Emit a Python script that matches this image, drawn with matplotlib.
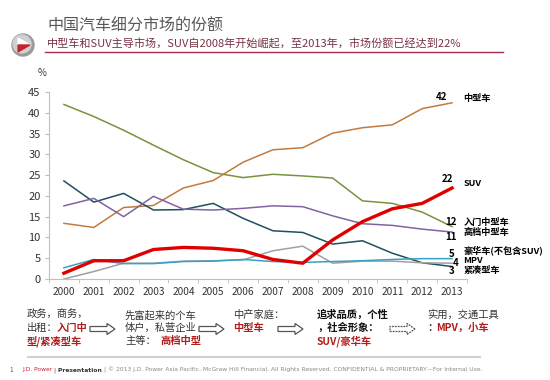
import matplotlib
matplotlib.use("Agg")
import matplotlib.pyplot as plt
from matplotlib.patches import Circle, Polygon, FancyArrow

plt.rcParams['font.family'] = ['Noto Sans CJK SC', 'DejaVu Sans']

years = [str(y) for y in range(2000, 2014)]

# market share, %
entry_mid = [42.0, 39.1, 35.8, 32.2, 28.7, 25.6, 24.4, 25.2, 24.8, 24.3, 18.8, 18.2, 16.1, 12.6]
mid_size = [13.4, 12.4, 17.2, 17.7, 21.9, 23.7, 28.1, 31.1, 31.6, 35.1, 36.4, 37.1, 41.0, 42.4]
compact = [23.6, 18.5, 20.6, 16.6, 16.7, 18.2, 14.6, 11.6, 11.2, 8.4, 9.2, 6.2, 3.9, 3.0]
premium_mid = [17.6, 19.4, 15.0, 19.9, 16.8, 16.6, 17.0, 17.6, 17.4, 15.2, 13.3, 12.9, 12.0, 11.3]
suv = [1.4, 4.4, 4.4, 7.1, 7.6, 7.4, 6.8, 4.7, 3.8, 9.4, 13.8, 16.9, 18.2, 21.9]
mpv = [0.0, 1.8, 3.8, 3.8, 4.3, 4.4, 4.6, 6.8, 7.9, 3.8, 4.3, 4.3, 3.9, 3.8]
luxury = [2.7, 4.7, 3.7, 3.7, 4.2, 4.3, 4.7, 4.2, 4.0, 4.2, 4.4, 4.7, 4.9, 4.9]

end_values = ["42", "22", "12", "11", "5", "4", "3"]
end_names = ["中型车", "SUV", "入门中型车", "高档中型车", "豪华车(不包含SUV)", "MPV", "紧凑型车"]

fig = plt.figure(figsize=(5.5, 3.8), dpi=100)
fig.patch.set_facecolor("white")

# overlay for decorations, in pixel coords
deco = fig.add_axes([0, 0, 1, 1], zorder=0)
deco.set_xlim(0, 550)
deco.set_ylim(380, 0)
deco.axis("off")

ax = fig.add_axes([49 / 550, 1 - 279 / 380, 418 / 550, 187 / 380], zorder=1)
ax.patch.set_alpha(0)

x = list(range(len(years)))
ax.plot(x, entry_mid, color="#77933C", lw=1.1)
ax.plot(x, mid_size, color="#C47A3C", lw=1.1)
ax.plot(x, compact, color="#1E4F63", lw=1.1)
ax.plot(x, premium_mid, color="#8064A2", lw=1.1)
ax.plot(x, mpv, color="#A0A0A0", lw=1.1)
ax.plot(x, luxury, color="#35A3C4", lw=1.1)
ax.plot(x, suv, color="#E00000", lw=2.4)

ax.set_xlim(-0.5, 13.5)
ax.set_ylim(0, 45)
ax.set_yticks(range(0, 46, 5))
ax.set_xticks(x)
ax.set_xticklabels(years)
ax.set_xticks([i - 0.5 for i in range(15)], minor=True)
ax.tick_params(axis="x", which="major", length=0, pad=6, labelsize=7.3, colors="#333333")
ax.tick_params(axis="x", which="minor", length=3, color="#BFBFBF")
ax.tick_params(axis="y", length=3, color="#BFBFBF", labelsize=8, colors="#333333", pad=3)
for s in ["top", "right"]:
    ax.spines[s].set_visible(False)
for s in ["left", "bottom"]:
    ax.spines[s].set_color("#BFBFBF")
ax.text(-0.72, 49.5, "%", fontsize=7, ha="center", va="center", color="#333333")

# end labels
num_pos = [(12.66, 43.9), (12.83, 24.1), (12.97, 13.7), (12.97, 10.1),
           (12.97, 6.0), (13.13, 3.9), (12.97, 1.9)]
name_y = [43.4, 22.9, 13.7, 11.1, 6.9, 4.5, 2.1]
for v, (nx, ny), nm, yy in zip(end_values, num_pos, end_names, name_y):
    ax.text(nx, ny, v, fontsize=7, fontweight="bold", ha="center", va="center",
            clip_on=False)
    ax.text(13.38, yy, nm, fontsize=6.6, fontweight="bold", ha="left", va="center",
            clip_on=False)

# header
deco.add_patch(Circle((23, 45), 11, color="#9A9A9A"))
deco.add_patch(Circle((22, 44), 9, color="#D0D0D0"))
deco.add_patch(Polygon([[18, 38], [18, 52], [30, 45]], closed=True, color="white"))
deco.add_patch(Polygon([[18, 45], [18, 52], [30, 45]], closed=True, color="#C8202F"))
deco.text(47, 26, "中国汽车细分市场的份额", fontsize=11.5, color="#595959", va="center")
deco.text(47, 44, "中型车和SUV主导市场，SUV自2008年开始崛起，至2013年，市场份额已经达到22%",
          fontsize=8, color="#7A3344", va="center")
deco.plot([45, 503], [52, 52], color="#A33048", lw=1)

# bottom narrative
black = "#333333"
red = "#B01E1E"
fs = 7.4
deco.text(27, 315, "政务，商务，", fontsize=fs, color=black, va="center")
deco.text(27, 328, "出租：", fontsize=fs, color=black, va="center")
deco.text(57, 328, "入门中", fontsize=fs, color=red, fontweight="bold", va="center")
deco.text(27, 341, "型/紧凑型车", fontsize=fs, color=red, fontweight="bold", va="center")

deco.text(125, 315, "先富起来的个车", fontsize=fs, color=black, va="center")
deco.text(125, 328, "体户，私营企业", fontsize=fs, color=black, va="center")
deco.text(125, 341, "主等：", fontsize=fs, color=black, va="center")
deco.text(160, 341, "高档中型", fontsize=fs, color=red, fontweight="bold", va="center")

deco.text(233, 315, "中产家庭：", fontsize=fs, color=black, va="center")
deco.text(233, 328, "中型车", fontsize=fs, color=red, fontweight="bold", va="center")

deco.text(317, 315, "追求品质，个性", fontsize=fs, color="#111111", fontweight="bold", va="center")
deco.text(317, 328, "，社会形象：", fontsize=fs, color="#111111", fontweight="bold", va="center")
deco.text(317, 341, "SUV/豪华车", fontsize=fs, color=red, fontweight="bold", va="center")

deco.text(427, 315, "实用，交通工具", fontsize=fs, color=black, va="center")
deco.text(427, 328, "：", fontsize=fs, color=black, fontweight="bold", va="center")
deco.text(436, 328, "MPV，小车", fontsize=fs, color=red, fontweight="bold", va="center")

for ax0, ls in [(90, "-"), (199, "-"), (278, "-"), (390, (0, (1.5, 0.8)))]:
    deco.add_patch(FancyArrow(ax0, 329, 17, 0, width=5, head_width=11, head_length=8,
                              fc="white", ec="#555555", lw=0.9, ls=ls))

# footer, pieces chained one after another
deco.plot([28, 480], [357, 357], color="#D0D0D0", lw=1.5)
deco.text(9, 370, "1", fontsize=4.5, color="#555555", va="center")
pieces = [("J.D. Power ", "#C8202F", "normal"), ("| ", "#555555", "normal"),
          ("Presentation ", "#333333", "bold"),
          ("| © 2013 J.D. Power Asia Pacific, McGraw Hill Financial. All Rights Reserved. "
           "CONFIDENTIAL & PROPRIETARY—For Internal Use.", "#888888", "normal")]
prev = None
for txt, col, wt in pieces:
    if prev is None:
        prev = deco.text(22, 370, txt, fontsize=4.3, color=col, fontweight=wt,
                         va="center", family=["DejaVu Sans"])
    else:
        prev = deco.annotate(txt, xy=(1, 0.5), xycoords=prev, fontsize=4.3, color=col,
                             fontweight=wt, va="center", ha="left",
                             family=["DejaVu Sans"])

fig.savefig("out.png", dpi=100)
